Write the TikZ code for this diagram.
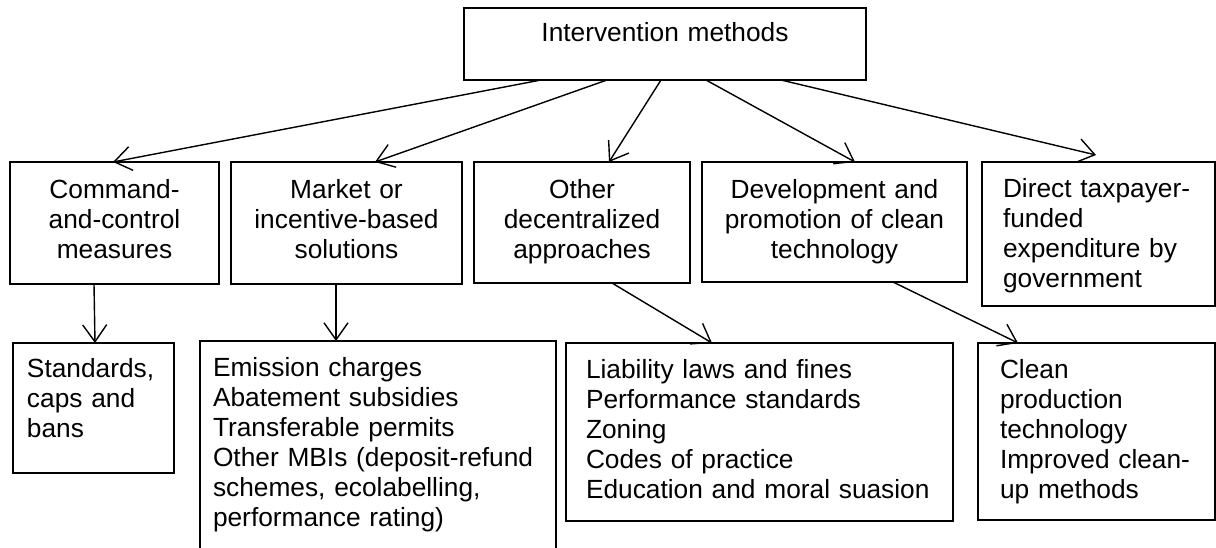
\documentclass[tikz,border=0pt]{standalone}
\usepackage{fontspec}
\setmainfont{Liberation Sans}
\usetikzlibrary{arrows.meta}

\begin{document}
\begin{tikzpicture}[x=1pt, y=-1pt,
  every node/.style={font=\fontsize{26.3}{30}\selectfont, inner ysep=0pt, outer sep=0pt},
  box/.style={draw, line width=1.5pt, anchor=north west, inner xsep=0pt, align=center, text height=37pt},
  list/.style={box, align=left, text height=35pt},
  arrow/.style={-{Straight Barb[length=17pt, width=24pt]}, line width=1.4pt}]
\useasboundingbox (0,0) rectangle (1216,548);

% top of the tree
\node[box, text width=402pt, text height=34pt, text depth=38pt] (methods) at (464,8) {Intervention methods};

% the five kinds of intervention
\node[box, text width=209pt, text depth=85pt] (cac) at (10,162) {Command-\\and-control\\measures};
\node[box, text width=231pt, text depth=85pt] (market) at (231,162) {Market or\\incentive-based\\solutions};
\node[box, text width=216pt, text depth=84pt] (decentral) at (474,162) {Other\\decentralized\\approaches};
\node[box, text width=265pt, text depth=83pt] (cleantech) at (702,162) {Development and\\promotion of clean\\technology};
\node[box, align=left, inner xsep=21pt, text width=191pt, text height=36pt, text depth=108pt] (spending) at (982,162)
  {Direct taxpayer-\\funded\\expenditure by\\government};

% instruments under each kind
\node[list, inner xsep=14pt, text width=133pt, text height=34pt, text depth=96pt] (bans) at (13,343) {Standards,\\caps and\\bans};
\node[list, inner xsep=13pt, text width=330pt, text depth=184pt] (mbis) at (200,341)
  {Emission charges\\Abatement subsidies\\Transferable permits\\Other MBIs (deposit-refund\\schemes, ecolabelling,\\performance rating)};
\node[list, inner xsep=20pt, text width=347pt, text depth=143pt] (laws) at (566,343)
  {Liability laws and fines\\Performance standards\\Zoning\\Codes of practice\\Education and moral suasion};
\node[list, inner xsep=22pt, text width=193pt, text depth=142pt] (cleanup) at (978,343)
  {Clean\\production\\technology\\Improved clean-\\up methods};

% connectors
\draw[arrow] ([xshift=77pt]methods.south west) -- ([xshift=103pt]cac.north west);
\draw[arrow] ([xshift=143pt]methods.south west) -- ([xshift=144pt]market.north west);
\draw[arrow] ([xshift=197pt]methods.south west) -- ([xshift=135pt]decentral.north west);
\draw[arrow] ([xshift=242pt]methods.south west) -- ([xshift=153pt]cleantech.north west);
\draw[arrow] ([xshift=317pt]methods.south west) -- ([xshift=114pt, yshift=7pt]spending.north west);

\draw[arrow] ([xshift=84pt]cac.south west) -- ([xshift=82pt]bans.north west);
\draw[arrow] ([xshift=105pt]market.south west) -- ([xshift=136pt]mbis.north west);
\draw[arrow] ([xshift=138pt]decentral.south west) -- ([xshift=146pt]laws.north west);
\draw[arrow] ([xshift=191pt]cleantech.south west) -- ([xshift=40pt]cleanup.north west);
\end{tikzpicture}
\end{document}
